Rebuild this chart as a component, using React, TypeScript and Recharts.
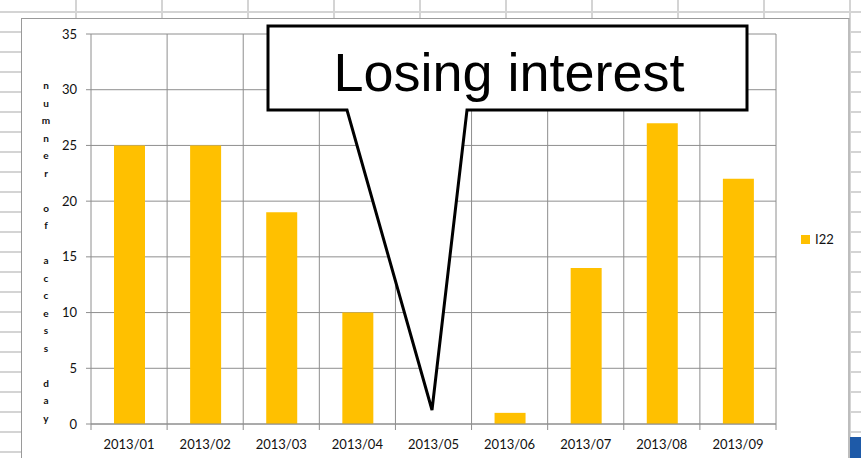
import React from 'react';
import { BarChart, Bar, XAxis, YAxis, CartesianGrid, Legend, Customized } from 'recharts';

const categories = ['2013/01', '2013/02', '2013/03', '2013/04', '2013/05', '2013/06', '2013/07', '2013/08', '2013/09'];
const accessDays = [25, 25, 19, 10, 0, 1, 14, 27, 22];
const yTicks = [0, 5, 10, 15, 20, 25, 30, 35];
const seriesName = 'I22';
const yAxisTitle = 'numner of access day';
const calloutText = 'Losing interest';

const data = categories.map((c, i) => ({ month: c, [seriesName]: accessDays[i] }));

const W = 861;
const H = 458;
const PLOT_LEFT = 91;
const PLOT_TOP = 34;
const PLOT_RIGHT = 776;
const PLOT_BOTTOM = 424;
const Y_AXIS_W = 60;
const X_AXIS_H = 30;
const GRID = '#8e8e8e';
const BAR = '#FFC000';
const FONT = 'Lato, "Open Sans", sans-serif';

const XTick = (props: any) => {
  const { x, payload, index } = props;
  const band = (PLOT_RIGHT - PLOT_LEFT) / categories.length;
  return (
    <g>
      <line x1={x - band / 2} x2={x - band / 2} y1={PLOT_BOTTOM} y2={PLOT_BOTTOM + 6} stroke={GRID} />
      {index === categories.length - 1 && (
        <line x1={x + band / 2} x2={x + band / 2} y1={PLOT_BOTTOM} y2={PLOT_BOTTOM + 6} stroke={GRID} />
      )}
      <text x={x} y={PLOT_BOTTOM + 25} textAnchor="middle" fontSize={13} fontFamily={FONT} fill="#111">
        {payload.value}
      </text>
    </g>
  );
};

const Overlay = () => {
  const letters = yAxisTitle.split('');
  return (
    <g>
      <text x={46} y={89} textAnchor="middle" fontSize={10} fontWeight="bold" fontFamily={FONT} fill="#111">
        {letters.map((ch, i) => (
          <tspan key={i} x={46} y={89 + i * 17.5}>
            {ch === ' ' ? '\u00a0' : ch}
          </tspan>
        ))}
      </text>
      <path
        d="M268,26 H747 V110 H467 L432,410 L347,110 H268 Z"
        fill="#fff"
        stroke="#000"
        strokeWidth={3}
        strokeLinejoin="miter"
      />
      <text x={509} y={91} textAnchor="middle" fontSize={54} fontFamily='"Liberation Sans", Arial, sans-serif' fill="#000">
        {calloutText}
      </text>
    </g>
  );
};

const LegendContent = () => (
  <div style={{ display: 'flex', alignItems: 'center', fontFamily: FONT, fontSize: 13, color: '#111' }}>
    <span style={{ width: 9, height: 9, background: BAR, display: 'inline-block', marginRight: 5 }} />
    <span>{seriesName}</span>
  </div>
);

export default function App() {
  return (
    <div
      style={{
        position: 'absolute',
        left: 0,
        top: 0,
        width: W,
        height: H,
        overflow: 'hidden',
        backgroundColor: '#fff',
        backgroundImage:
          'linear-gradient(to bottom, #d4d4d4 0px, #d4d4d4 2px, transparent 2px), linear-gradient(to right, #d4d4d4 0px, #d4d4d4 2px, transparent 2px)',
        backgroundSize: '100% 20px, 86px 100%',
        backgroundPosition: '0 11px, 75px 0',
      }}
    >
      <div
        style={{
          position: 'absolute',
          left: 21,
          top: 18,
          width: 826,
          height: 460,
          background: '#fff',
          borderLeft: '1px solid #9a9a9a',
          borderTop: '1px solid #9a9a9a',
          borderRight: '2px solid #bdbdbd',
        }}
      />
      <div style={{ position: 'absolute', left: 850, top: 437, width: 11, height: 21, background: '#1e5aa8' }} />
      <div style={{ position: 'absolute', left: 0, top: 0 }}>
        <BarChart
          width={W}
          height={H}
          data={data}
          margin={{ top: PLOT_TOP, right: W - PLOT_RIGHT, left: PLOT_LEFT - Y_AXIS_W, bottom: H - PLOT_BOTTOM - X_AXIS_H }}
          barCategoryGap={0}
        >
          <CartesianGrid
            stroke={GRID}
            verticalCoordinatesGenerator={({ offset }: any) => {
              const n = categories.length;
              const arr: number[] = [];
              for (let i = 1; i <= n; i++) arr.push(offset.left + (i * offset.width) / n);
              return arr;
            }}
          />
          <XAxis
            dataKey="month"
            height={X_AXIS_H}
            axisLine={{ stroke: GRID }}
            tickLine={false}
            tick={<XTick />}
            interval={0}
          />
          <YAxis
            width={Y_AXIS_W}
            domain={[0, 35]}
            ticks={yTicks}
            interval={0}
            axisLine={{ stroke: GRID }}
            tickLine={{ stroke: GRID }}
            tickSize={5}
            tickMargin={9}
            tick={{ fontSize: 13, fontFamily: FONT, fill: '#111' }}
          />
          <Bar dataKey={seriesName} fill={BAR} barSize={31} isAnimationActive={false} />
          <Legend
            layout="vertical"
            align="center"
            verticalAlign="middle"
            content={<LegendContent />}
            wrapperStyle={{ left: 801, top: 231, width: 50, right: 'auto', bottom: 'auto' }}
          />
          <Customized component={<Overlay />} />
        </BarChart>
      </div>
    </div>
  );
}
